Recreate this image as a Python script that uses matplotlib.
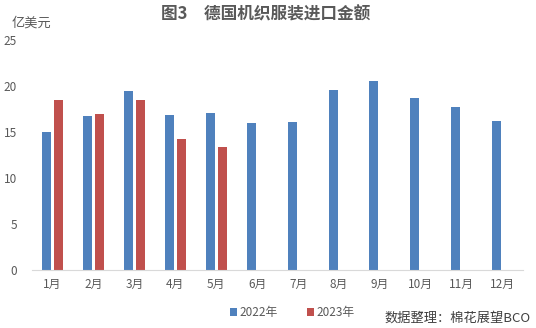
import matplotlib.pyplot as plt
import numpy as np

plt.rcParams['font.family'] = ['Noto Sans CJK SC', 'DejaVu Sans']

月 = ["1月", "2月", "3月", "4月", "5月", "6月", "7月", "8月", "9月", "10月", "11月", "12月"]
金额2022 = [15.0, 16.7, 19.5, 16.9, 17.1, 16.0, 16.1, 19.6, 20.5, 18.7, 17.7, 16.2]
金额2023 = [18.5, 17.0, 18.5, 14.2, 13.4]

蓝 = "#4F81BD"
红 = "#C0504D"
灰 = "#595959"

fig = plt.figure(figsize=(5.36, 3.28), dpi=100)
ax = fig.add_axes([0.06, 0.177, 0.916, 0.701])

x = np.arange(len(月))
宽 = 0.22
偏 = 0.147
ax.bar(x - 偏, 金额2022, width=宽, color=蓝, label="2022年")
ax.bar(x[:len(金额2023)] + 偏, 金额2023, width=宽, color=红, label="2023年")

ax.set_xlim(-0.5, len(月) - 0.5)
ax.set_ylim(0, 25)
ax.set_yticks([0, 5, 10, 15, 20, 25])
ax.set_xticks(x)
ax.set_xticklabels(月)
ax.tick_params(axis='both', length=0, labelsize=8.5, colors=灰)
ax.tick_params(axis='y', pad=11)
ax.tick_params(axis='x', pad=6)
for s in ["top", "right", "left"]:
    ax.spines[s].set_visible(False)
ax.spines["bottom"].set_color("#D9D9D9")

fig.text(0.022, 0.93, "亿美元", fontsize=9.5, color=灰, va='center')
fig.text(0.495, 0.955, "图3　德国机织服装进口金额", fontsize=12, fontweight='bold',
         color=灰, ha='center', va='center')

fig.legend(loc='center', bbox_to_anchor=(0.545, 0.047), ncol=2, frameon=False,
           fontsize=8.5, labelcolor=灰, handlelength=0.6, handleheight=0.6,
           handletextpad=0.2, columnspacing=2.5)
fig.text(0.99, 0.03, "数据整理：棉花展望BCO", fontsize=9.5, color="#404040",
         ha='right', va='center')

fig.savefig("out.png", dpi=100)
